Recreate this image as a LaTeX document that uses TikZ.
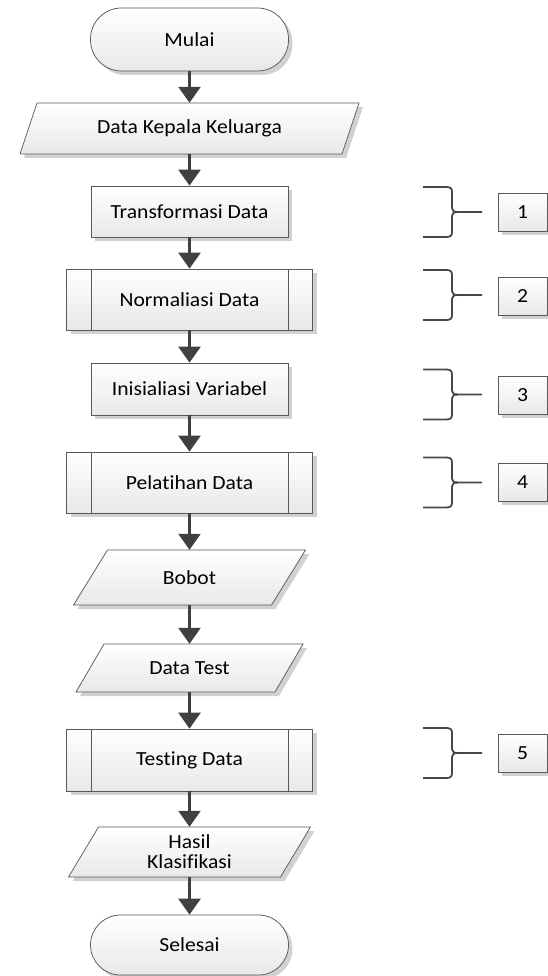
\documentclass[tikz,border=0pt]{standalone}
\usepackage{fontspec}
\setmainfont{Carlito}[FakeStretch=1.08, Ligatures={NoCommon}]
\usetikzlibrary{arrows.meta,shadows}
\tikzset{
  every node/.style={font=\fontsize{20}{20}\selectfont, text=black, align=center},
  boxbase/.style={draw=black!65, line width=0.75pt, top color=white, bottom color=black!9,
    drop shadow={shadow xshift=4pt, shadow yshift=-4pt, fill=black!18, opacity=1}},
  term/.style={boxbase, rectangle, rounded corners=31pt, minimum width=198pt, minimum height=63pt, inner sep=0pt},
  proc/.style={boxbase, rectangle, minimum width=197pt, minimum height=51pt, inner sep=0pt},
  pre/.style={boxbase, rectangle, minimum width=246pt, minimum height=61pt, inner sep=0pt},
  iohold/.style={rectangle, draw=none, inner sep=0pt},
  numbox/.style={boxbase, rectangle, minimum width=49pt, minimum height=38pt, inner sep=0pt},
  flow/.style={draw=black!75, line width=2.6pt, -{Triangle[length=16pt,width=22pt]}},
  bracestyle/.style={draw=black!72, line width=1.8pt},
  preline/.style={draw=black!65, line width=0.75pt},
}
% parallelogram: cx, cy, half edge width, half height, half offset
\newcommand\ioshape[5]{%
  \draw[boxbase] ({#1-#3+#5},{#2-#4}) -- ({#1+#3+#5},{#2-#4}) -- ({#1+#3-#5},{#2+#4}) -- ({#1-#3-#5},{#2+#4}) -- cycle;}
% brace centred at y = #1
\newcommand\mybrace[1]{%
  \draw[bracestyle] (423,{#1-25}) -- (446,{#1-25}) .. controls (450,{#1-25}) and (452,{#1-24}) .. (452,{#1-20})
    -- (452,{#1-4}) .. controls (452,{#1-1}) and (454,{#1}) .. (458,{#1}) -- (482,{#1});
  \draw[bracestyle] (458,{#1}) .. controls (454,{#1}) and (452,{#1+1}) .. (452,{#1+4})
    -- (452,{#1+20}) .. controls (452,{#1+24}) and (450,{#1+25}) .. (446,{#1+25}) -- (423,{#1+25});}
\begin{document}
\begin{tikzpicture}[x=1pt,y=-1pt]
\useasboundingbox (0,0) rectangle (548,976);

% shapes of the data (parallelogram) symbols
\ioshape{189.5}{128.5}{161}{25.5}{8.5}
\ioshape{189.5}{577.5}{99}{27.5}{17}
\ioshape{189.5}{668}{99.5}{24}{14}
\ioshape{189.5}{852}{106}{25}{15}

\node[term] (mulai) at (189.5,39.5) {Mulai};
\node[iohold, minimum width=300pt, minimum height=51pt] (dkk) at (189.5,128.5) {Data Kepala Keluarga};
\node[proc] (trans) at (189.5,211.5) {Transformasi Data};
\node[pre] (norm) at (189.5,299.5) {Normaliasi Data};
\node[proc, minimum height=52pt] (init) at (189.5,389) {Inisialiasi Variabel};
\node[pre] (latih) at (189.5,482.5) {Pelatihan Data};
\node[iohold, minimum width=180pt, minimum height=55pt] (bobot) at (189.5,577.5) {Bobot};
\node[iohold, minimum width=180pt, minimum height=48pt] (dtest) at (189.5,668) {Data Test};
\node[pre, minimum height=62pt] (testing) at (189.5,760) {Testing Data};
\node[iohold, minimum width=180pt, minimum height=50pt] (hasil) at (189.5,852) {Hasil\\Klasifikasi};
\node[term, minimum height=60pt, rounded corners=30pt] (selesai) at (189.5,945) {Selesai};

\foreach \n in {norm,latih,testing}{
  \draw[preline] ([xshift=25pt]\n.north west) -- ([xshift=25pt]\n.south west);
  \draw[preline] ([xshift=-25pt]\n.north east) -- ([xshift=-25pt]\n.south east);
}

\draw[flow] (mulai) -- (dkk);
\draw[flow] (dkk) -- (trans);
\draw[flow] (trans) -- (norm);
\draw[flow] (norm) -- (init);
\draw[flow] (init) -- (latih);
\draw[flow] (latih) -- (bobot);
\draw[flow] (bobot) -- (dtest);
\draw[flow] (dtest) -- (testing);
\draw[flow] (testing) -- (hasil);
\draw[flow] (hasil) -- (selesai);

% numbered boxes and braces
\node[numbox] (n1) at (522.5,212) {1};
\node[numbox] (n2) at (522.5,296) {2};
\node[numbox] (n3) at (522.5,395) {3};
\node[numbox] (n4) at (522.5,482) {4};
\node[numbox] (n5) at (522.5,753) {5};
\mybrace{212}
\mybrace{295}
\mybrace{394.5}
\mybrace{482.5}
\mybrace{753}
\end{tikzpicture}
\end{document}
